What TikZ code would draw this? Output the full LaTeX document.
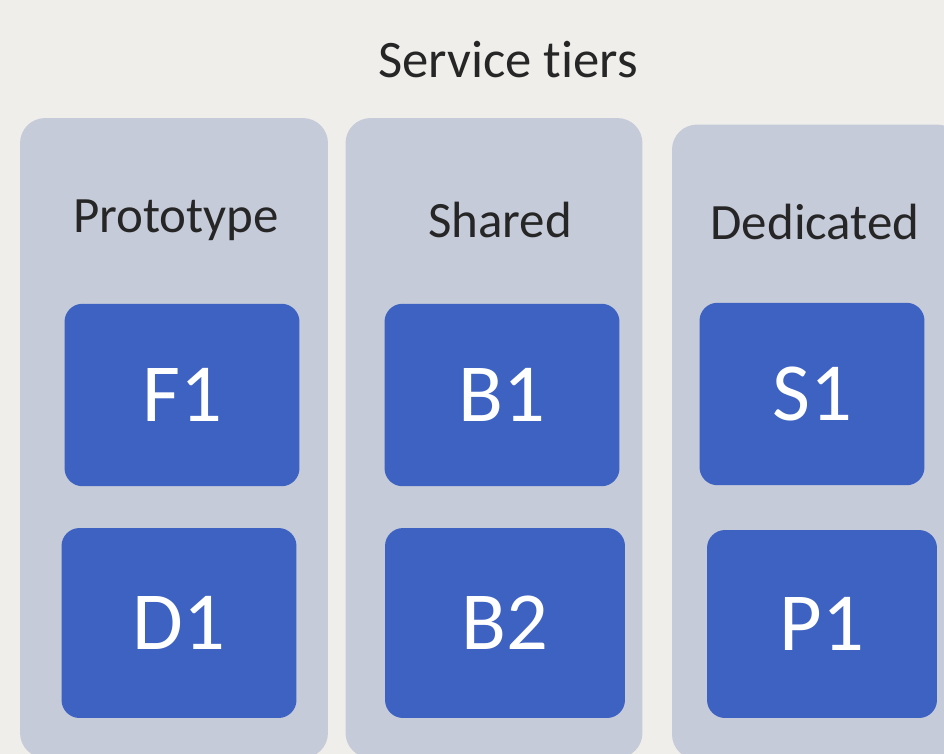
\documentclass[tikz,border=0pt]{standalone}
\usepackage{fontspec}
\setmainfont{Carlito}[Ligatures=NoCommon]
\usepackage{tikz}
\definecolor{paper}{HTML}{EFEEEA}
\definecolor{tiergray}{HTML}{C6CBDA}
\definecolor{skublue}{HTML}{3D62C2}
\definecolor{inkgray}{HTML}{262626}

\begin{document}
\begin{tikzpicture}[x=0.02cm,y=-0.02cm,
    tier/.style={fill=tiergray, rounded corners=0.5cm, inner sep=0pt},
    tiername/.style={text=inkgray, font=\fontsize{29}{34}\selectfont},
    skubox/.style={fill=skublue, rounded corners=0.36cm, text=white,
      minimum width=4.7cm, minimum height=3.65cm, font=\fontsize{47}{56}\selectfont}]
      % Page and its frame
      \fill[paper] (0,0) rectangle (944,754);
      \useasboundingbox (0,0) rectangle (944,754);
      \clip (0,0) rectangle (944,754);

      % Title
      \node[text=inkgray, font=\fontsize{30}{36}\selectfont] (title) at (508,60) {Service tiers};

      % The three tiers
      \node[tier, minimum width=6.16cm, minimum height=12.8cm] (prototype) at (174,438) {};
      \node[tier, minimum width=5.94cm, minimum height=12.8cm] (shared) at (494,438) {};
      \node[tier, minimum width=5.8cm, minimum height=12.7cm] (dedicated) at (817,442) {};

      \node[tiername] (protoname) at (176,220) {Prototype};
      \node[tiername] (sharedname) at (500,220) {Shared};
      \node[tiername] (dedname) at (815,222) {Dedicated};

      % Tier sizes
      \node[skubox] (f1) at (182,395) {F1};
      \node[skubox] (b1) at (502,395) {B1};
      \node[skubox, minimum width=4.5cm] (s1) at (812,394) {S1};
      \node[skubox, minimum height=3.8cm] (d1) at (179,623) {D1};
      \node[skubox, minimum width=4.8cm, minimum height=3.8cm] (b2) at (505,623) {B2};
      \node[skubox, minimum width=4.6cm, minimum height=3.76cm] (p1) at (822,624) {P1};
\end{tikzpicture}
\end{document}
